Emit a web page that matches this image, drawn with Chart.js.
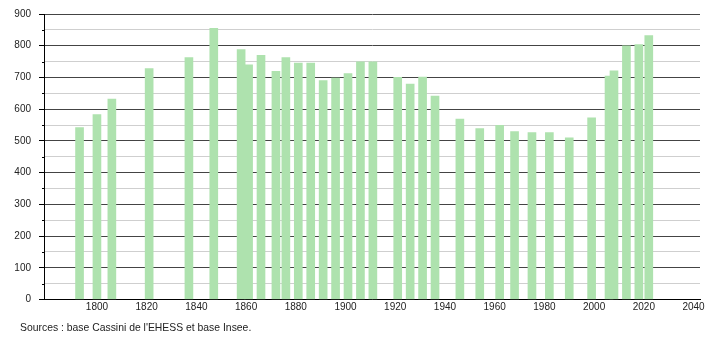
<!DOCTYPE html>
<html><head><meta charset="utf-8">
<script src="https://cdn.jsdelivr.net/npm/chart.js@4"></script>
<style>html,body{margin:0;padding:0;background:#fff}#wrap{width:710px;height:340px;position:relative}</style>
</head><body><div id="wrap"><canvas id="c" width="710" height="340"></canvas></div>
<script>
const years = [1793,1800,1806,1821,1837,1847,1858,1861,1866,1872,1876,1881,1886,1891,1896,1901,1906,1911,1921,1926,1931,1936,1946,1954,1962,1968,1975,1982,1990,1999,2006,2008,2013,2018,2022];
const population = [542,583,632,728,763,855,788,740,770,719,763,745,745,690,698,712,749,749,700,679,701,641,569,539,549,529,526,526,510,573,704,721,800,804,832];
const sourceText = "Sources : base Cassini de l'EHESS et base Insee.";

const FONT = "'Liberation Sans', Arial, sans-serif";

const minorTicks = {
  id: 'minorTicks',
  afterLayout(chart) {
    if (chart.titleBlock) { chart.titleBlock.left = 20; }
  },
  afterDraw(chart) {
    const y = chart.scales.y, ctx = chart.ctx;
    ctx.save();
    ctx.strokeStyle = '#000';
    ctx.lineWidth = 1;
    for (let v = 50; v < 900; v += 100) {
      const py = Math.round(y.getPixelForValue(v)) + 0.5;
      ctx.beginPath();
      ctx.moveTo(y.right - 2, py);
      ctx.lineTo(y.right, py);
      ctx.stroke();
    }
    ctx.restore();
  }
};

new Chart(document.getElementById('c'), {
  type: 'bar',
  data: {
    datasets: [{
      data: years.map((yr, i) => ({ x: yr, y: population[i] })),
      backgroundColor: '#aee2ae',
      borderWidth: 0,
      barThickness: 8
    }]
  },
  options: {
    responsive: false,
    animation: false,
    devicePixelRatio: 1,
    layout: { padding: { left: 0, top: 10, right: 10, bottom: 0 } },
    plugins: {
      legend: { display: false },
      tooltip: { enabled: false },
      title: {
        display: true, text: sourceText, position: 'bottom', align: 'start',
        color: '#222', font: { family: FONT, size: 10.4, weight: 'normal' },
        padding: { top: 9, bottom: 6 }
      }
    },
    scales: {
      x: {
        type: 'linear', min: 1778.7, max: 2042.6, offset: false,
        afterFit(s) { s.height = 13; },
        afterBuildTicks(s) { s.ticks = s.ticks.filter(t => t.value >= 1800 && t.value % 20 === 0); },
        ticks: { stepSize: 20, includeBounds: false, autoSkip: false, maxRotation: 0, padding: 2,
          color: '#222', font: { family: FONT, size: 10 },
          callback: v => String(v) },
        grid: { display: false, drawTicks: false, offset: false },
        border: { display: true, color: '#000' }
      },
      y: {
        min: 0, max: 900,
        afterFit(s) { s.width = 44; },
        ticks: { stepSize: 50, autoSkip: false, padding: 8,
          color: '#222', font: { family: FONT, size: 10 },
          callback: v => (v % 100 === 0 ? String(v) : '') },
        grid: {
          color: c => (c.tick && c.tick.value % 100 === 0 ? '#444' : '#cfcfcf'),
          tickColor: c => (c.tick && c.tick.value % 100 === 0 ? '#000' : 'rgba(0,0,0,0)'),
          tickLength: 5, lineWidth: 1
        },
        border: { display: true, color: '#000' }
      }
    }
  },
  plugins: [minorTicks]
});
</script></body></html>
